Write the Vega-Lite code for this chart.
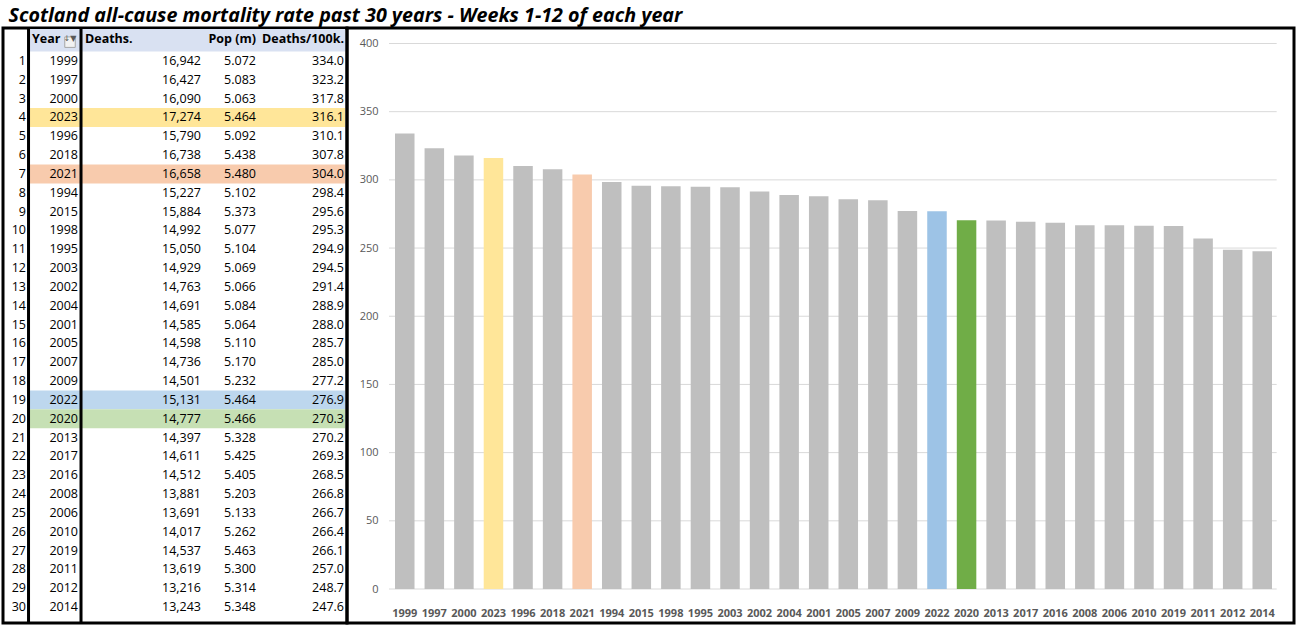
{
  "$schema": "https://vega.github.io/schema/vega-lite/v6.json",
  "padding": {"left": 1, "top": 6, "right": 12, "bottom": 6},
  "background": "white",
  "title": {"text": "Scotland all-cause mortality rate past 30 years - Weeks 1-12 of each year", "anchor": "start", "font": "Open Sans", "fontSize": 19.7, "fontWeight": "bold", "fontStyle": "italic", "color": "black", "offset": -1, "dx": 7},
  "datasets": {
    "rows": [
      {"rank": 1, "Year": 1999, "Deaths": 16942, "Pop": 5.072, "Rate": 334.0},
      {"rank": 2, "Year": 1997, "Deaths": 16427, "Pop": 5.083, "Rate": 323.2},
      {"rank": 3, "Year": 2000, "Deaths": 16090, "Pop": 5.063, "Rate": 317.8},
      {"rank": 4, "Year": 2023, "Deaths": 17274, "Pop": 5.464, "Rate": 316.1},
      {"rank": 5, "Year": 1996, "Deaths": 15790, "Pop": 5.092, "Rate": 310.1},
      {"rank": 6, "Year": 2018, "Deaths": 16738, "Pop": 5.438, "Rate": 307.8},
      {"rank": 7, "Year": 2021, "Deaths": 16658, "Pop": 5.480, "Rate": 304.0},
      {"rank": 8, "Year": 1994, "Deaths": 15227, "Pop": 5.102, "Rate": 298.4},
      {"rank": 9, "Year": 2015, "Deaths": 15884, "Pop": 5.373, "Rate": 295.6},
      {"rank": 10, "Year": 1998, "Deaths": 14992, "Pop": 5.077, "Rate": 295.3},
      {"rank": 11, "Year": 1995, "Deaths": 15050, "Pop": 5.104, "Rate": 294.9},
      {"rank": 12, "Year": 2003, "Deaths": 14929, "Pop": 5.069, "Rate": 294.5},
      {"rank": 13, "Year": 2002, "Deaths": 14763, "Pop": 5.066, "Rate": 291.4},
      {"rank": 14, "Year": 2004, "Deaths": 14691, "Pop": 5.084, "Rate": 288.9},
      {"rank": 15, "Year": 2001, "Deaths": 14585, "Pop": 5.064, "Rate": 288.0},
      {"rank": 16, "Year": 2005, "Deaths": 14598, "Pop": 5.110, "Rate": 285.7},
      {"rank": 17, "Year": 2007, "Deaths": 14736, "Pop": 5.170, "Rate": 285.0},
      {"rank": 18, "Year": 2009, "Deaths": 14501, "Pop": 5.232, "Rate": 277.2},
      {"rank": 19, "Year": 2022, "Deaths": 15131, "Pop": 5.464, "Rate": 276.9},
      {"rank": 20, "Year": 2020, "Deaths": 14777, "Pop": 5.466, "Rate": 270.3},
      {"rank": 21, "Year": 2013, "Deaths": 14397, "Pop": 5.328, "Rate": 270.2},
      {"rank": 22, "Year": 2017, "Deaths": 14611, "Pop": 5.425, "Rate": 269.3},
      {"rank": 23, "Year": 2016, "Deaths": 14512, "Pop": 5.405, "Rate": 268.5},
      {"rank": 24, "Year": 2008, "Deaths": 13881, "Pop": 5.203, "Rate": 266.8},
      {"rank": 25, "Year": 2006, "Deaths": 13691, "Pop": 5.133, "Rate": 266.7},
      {"rank": 26, "Year": 2010, "Deaths": 14017, "Pop": 5.262, "Rate": 266.4},
      {"rank": 27, "Year": 2019, "Deaths": 14537, "Pop": 5.463, "Rate": 266.1},
      {"rank": 28, "Year": 2011, "Deaths": 13619, "Pop": 5.300, "Rate": 257.0},
      {"rank": 29, "Year": 2012, "Deaths": 13216, "Pop": 5.314, "Rate": 248.7},
      {"rank": 30, "Year": 2014, "Deaths": 13243, "Pop": 5.348, "Rate": 247.6}
    ],
    "grid": [{"v": 0}, {"v": 50}, {"v": 100}, {"v": 150}, {"v": 200}, {"v": 250}, {"v": 300}, {"v": 350}, {"v": 400}],
    "one": [{"k": 1}]
  },
  "spacing": 0,
  "bounds": "flush",
  "config": {
    "view": {"stroke": "black", "strokeWidth": 3},
    "concat": {"spacing": 0},
    "text": {"font": "Open Sans", "fontSize": 12.5, "color": "black"}
  },
  "hconcat": [
    {
      "width": 344,
      "height": 595,
      "encoding": {
        "y": {"field": "rank", "type": "ordinal", "scale": {"domain": [0,1,2,3,4,5,6,7,8,9,10,11,12,13,14,15,16,17,18,19,20,21,22,23,24,25,26,27,28,29,30], "paddingInner": 0, "paddingOuter": 0.3, "align": 0.42}, "axis": null}
      },
      "layer": [
        {
          "data": {"name": "one"},
          "mark": {"type": "rect", "fill": "#D9E1F2"},
          "encoding": {
            "y": {"datum": 0, "type": "ordinal", "bandPosition": -0.2},
            "y2": {"datum": 0, "bandPosition": 1},
            "x": {"datum": "#", "type": "nominal", "bandPosition": 0.378, "scale": {"domain": ["#", "Year", "Deaths.", "Pop (m)", "Deaths/100k."], "paddingInner": 0, "paddingOuter": 0}, "axis": null},
            "x2": {"datum": "Deaths/100k.", "bandPosition": 0.971}
          }
        },
        {
          "data": {"name": "rows"},
          "transform": [{"filter": {"field": "Year", "oneOf": [2020, 2021, 2022, 2023]}}],
          "mark": {"type": "rect"},
          "encoding": {
            "x": {"datum": "#", "type": "nominal", "bandPosition": 0.378},
            "x2": {"datum": "Deaths/100k.", "bandPosition": 0.971},
            "fill": {"field": "Year", "type": "nominal", "scale": {"domain": [2023, 2021, 2022, 2020], "range": ["#FFE699", "#F8CBAD", "#BDD7EE", "#C6E0B4"]}, "legend": null}
          }
        },
        {
          "data": {"name": "rows"},
          "mark": {"type": "text", "align": "right", "baseline": "middle"},
          "encoding": {"x": {"datum": "#", "type": "nominal", "bandPosition": 0.334}, "text": {"field": "rank"}}
        },
        {
          "data": {"name": "rows"},
          "mark": {"type": "text", "align": "right", "baseline": "middle"},
          "encoding": {"x": {"datum": "Year", "type": "nominal", "bandPosition": 0.09}, "text": {"field": "Year"}}
        },
        {
          "data": {"name": "rows"},
          "mark": {"type": "text", "align": "right", "baseline": "middle"},
          "encoding": {"x": {"datum": "Deaths.", "type": "nominal", "bandPosition": 0.878}, "text": {"field": "Deaths", "type": "quantitative", "format": ","}}
        },
        {
          "data": {"name": "rows"},
          "mark": {"type": "text", "align": "right", "baseline": "middle"},
          "encoding": {"x": {"datum": "Pop (m)", "type": "nominal", "bandPosition": 0.677}, "text": {"field": "Pop", "type": "quantitative", "format": ".3f"}}
        },
        {
          "data": {"name": "rows"},
          "mark": {"type": "text", "align": "right", "baseline": "middle"},
          "encoding": {"x": {"datum": "Deaths/100k.", "type": "nominal", "bandPosition": 0.956}, "text": {"field": "Rate", "type": "quantitative", "format": ".1f"}}
        },
        {
          "data": {"name": "one"},
          "mark": {"type": "text", "align": "left", "baseline": "middle", "fontWeight": "bold", "dy": -3},
          "encoding": {"y": {"datum": 0, "type": "ordinal"}, "x": {"datum": "#", "type": "nominal", "bandPosition": 0.422}, "text": {"value": "Year"}}
        },
        {
          "data": {"name": "one"},
          "mark": {"type": "point", "shape": "square", "size": 110, "filled": true, "fill": "#F2F2F2", "stroke": "#A6A6A6", "strokeWidth": 1, "opacity": 1, "dy": -3},
          "encoding": {"y": {"datum": 0, "type": "ordinal"}, "x": {"datum": "#", "type": "nominal", "bandPosition": 0.974}}
        },
        {
          "data": {"name": "one"},
          "mark": {"type": "text", "align": "center", "baseline": "middle", "fontSize": 8, "font": "DejaVu Sans", "color": "#595959", "dy": -3},
          "encoding": {"y": {"datum": 0, "type": "ordinal"}, "x": {"datum": "#", "type": "nominal", "bandPosition": 0.974}, "text": {"value": "↓▼"}}
        },
        {
          "data": {"name": "one"},
          "mark": {"type": "text", "align": "left", "baseline": "middle", "fontWeight": "bold", "dy": -3},
          "encoding": {"y": {"datum": 0, "type": "ordinal"}, "x": {"datum": "Year", "type": "nominal", "bandPosition": 0.192}, "text": {"value": "Deaths."}}
        },
        {
          "data": {"name": "one"},
          "mark": {"type": "text", "align": "right", "baseline": "middle", "fontWeight": "bold", "dy": -3},
          "encoding": {"y": {"datum": 0, "type": "ordinal"}, "x": {"datum": "Pop (m)", "type": "nominal", "bandPosition": 0.677}, "text": {"value": "Pop (m)"}}
        },
        {
          "data": {"name": "one"},
          "mark": {"type": "text", "align": "right", "baseline": "middle", "fontWeight": "bold", "dy": -3},
          "encoding": {"y": {"datum": 0, "type": "ordinal"}, "x": {"datum": "Deaths/100k.", "type": "nominal", "bandPosition": 0.956}, "text": {"value": "Deaths/100k."}}
        },
        {
          "data": {"name": "one"},
          "mark": {"type": "rule", "color": "black", "strokeWidth": 3},
          "encoding": {
            "x": {"datum": "#", "type": "nominal", "bandPosition": 0.371},
            "y": {"datum": 0, "type": "ordinal", "bandPosition": -0.26},
            "y2": {"datum": 30, "bandPosition": 1.35}
          }
        },
        {
          "data": {"name": "one"},
          "mark": {"type": "rule", "color": "black", "strokeWidth": 3},
          "encoding": {
            "x": {"datum": "Year", "type": "nominal", "bandPosition": 0.134},
            "y": {"datum": 0, "type": "ordinal", "bandPosition": -0.26},
            "y2": {"datum": 30, "bandPosition": 1.35}
          }
        }
      ]
    },
    {
      "width": 947,
      "height": 595,
      "layer": [
        {
          "data": {"name": "grid"},
          "mark": {"type": "rule", "color": "#D9D9D9", "strokeWidth": 1},
          "encoding": {
            "y": {"field": "v", "type": "quantitative", "scale": {"domain": [-24.93, 411.36], "nice": false, "zero": false}, "axis": {"values": [0, 50, 100, 150, 200, 250, 300, 350, 400], "title": null, "grid": false, "ticks": false, "domain": false, "offset": -31, "labelPadding": 0, "labelColor": "#595959", "labelFont": "Open Sans", "labelFontSize": 11}},
            "x": {"datum": 1999, "type": "nominal", "bandPosition": -0.307, "axis": {"title": null, "labelAngle": 0, "ticks": false, "domain": false, "grid": false, "offset": -16, "labelPadding": 0, "labelColor": "#595959", "labelFont": "Open Sans", "labelFontSize": 11, "labelFontWeight": "bold", "bandPosition": 0.5}},
            "x2": {"datum": 2014, "bandPosition": 1.24}
          }
        },
        {
          "data": {"name": "rows"},
          "mark": {"type": "bar"},
          "encoding": {
            "x": {"field": "Year", "type": "nominal", "scale": {"domain": [1999,1997,2000,2023,1996,2018,2021,1994,2015,1998,1995,2003,2002,2004,2001,2005,2007,2009,2022,2020,2013,2017,2016,2008,2006,2010,2019,2011,2012,2014], "paddingInner": 0.34, "paddingOuter": 0, "range": [48, 925]}, "axis": {"title": null, "labelAngle": 0, "ticks": false, "domain": false, "grid": false, "offset": -16, "labelPadding": 0, "labelColor": "#595959", "labelFont": "Open Sans", "labelFontSize": 11, "labelFontWeight": "bold", "bandPosition": 0.5}},
            "y": {"field": "Rate", "type": "quantitative", "axis": {"values": [0, 50, 100, 150, 200, 250, 300, 350, 400], "title": null, "grid": false, "ticks": false, "domain": false, "offset": -31, "labelPadding": 0, "labelColor": "#595959", "labelFont": "Open Sans", "labelFontSize": 11}},
            "y2": {"datum": 0},
            "color": {
              "condition": [
                {"test": "datum.Year == 2023", "value": "#FFE699"},
                {"test": "datum.Year == 2021", "value": "#F8CBAD"},
                {"test": "datum.Year == 2022", "value": "#9DC3E6"},
                {"test": "datum.Year == 2020", "value": "#70AD47"}
              ],
              "value": "#BFBFBF"
            }
          }
        }
      ]
    }
  ]
}
